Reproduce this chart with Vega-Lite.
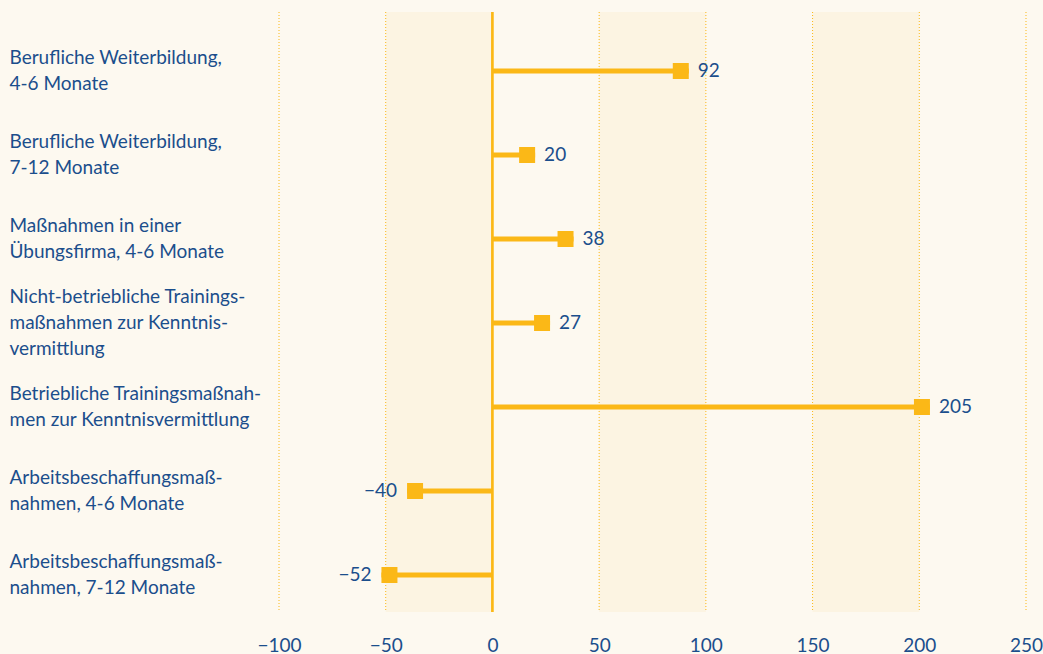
{
  "$schema": "https://vega.github.io/schema/vega-lite/v6.json",
  "autosize": {"type": "none"},
  "width": 747,
  "height": 600,
  "padding": {"left": 279, "top": 12, "right": 17, "bottom": 42},
  "background": "#fdf9f0",
  "config": {
    "view": {"stroke": null},
    "font": "Lato",
    "axis": {"labelFont": "Lato", "labelColor": "#1b4e8c", "labelFontSize": 19}
  },
  "datasets": {
    "rows": [
      {"category": "Berufliche Weiterbildung,|4-6 Monate", "value": 92},
      {"category": "Berufliche Weiterbildung,|7-12 Monate", "value": 20},
      {"category": "Maßnahmen in einer|Übungsfirma, 4-6 Monate", "value": 38},
      {"category": "Nicht-betriebliche Trainings-|maßnahmen zur Kenntnis-|vermittlung", "value": 27},
      {"category": "Betriebliche Trainingsmaßnah-|men zur Kenntnisvermittlung", "value": 205},
      {"category": "Arbeitsbeschaffungsmaß-|nahmen, 4-6 Monate", "value": -40},
      {"category": "Arbeitsbeschaffungsmaß-|nahmen, 7-12 Monate", "value": -52}
    ],
    "bands": [
      {"start": -50, "end": 0},
      {"start": 50, "end": 100},
      {"start": 150, "end": 200}
    ],
    "grid": [
      {"g": -100}, {"g": -50}, {"g": 50}, {"g": 100}, {"g": 150}, {"g": 200}, {"g": 250}
    ]
  },
  "data": {"name": "rows"},
  "resolve": {"scale": {"x": "shared"}},
  "layer": [
    {
      "data": {"name": "bands"},
      "mark": {"type": "rect", "color": "#fcf4e2"},
      "encoding": {
        "x": {"field": "start", "type": "quantitative", "scale": {"domain": [-100, 250], "nice": false, "zero": false},
          "axis": {"values": [-100, -50, 0, 50, 100, 150, 200, 250], "title": null, "domain": false, "ticks": false, "grid": false, "labelPadding": 24, "labelFlush": false}},
        "x2": {"field": "end"}
      }
    },
    {
      "data": {"name": "grid"},
      "mark": {"type": "rule", "color": "#fbb817", "strokeWidth": 1, "strokeDash": [1, 2]},
      "encoding": {
        "x": {"field": "g", "type": "quantitative"}
      }
    },
    {
      "mark": {"type": "rule", "color": "#fbb817", "strokeWidth": 1.5},
      "encoding": {"x": {"datum": 0, "type": "quantitative"}}
    },
    {
      "mark": {"type": "rule", "color": "#fbb817", "strokeWidth": 5, "strokeCap": "butt"},
      "encoding": {
        "y": {"field": "category", "type": "nominal", "sort": null,
          "scale": {"range": [17, 605], "paddingInner": 0, "paddingOuter": 0},
          "axis": {"title": null, "domain": false, "ticks": false, "labelAlign": "left", "labelPadding": 270, "labelLimit": 400, "labelLineHeight": 26, "labelBaseline": "middle",
            "labelOffset": {"condition": {"test": "length(split(datum.value, '|')) > 2", "value": -26}, "value": -13},
            "labelExpr": "split(datum.value, '|')"}},
        "x": {"field": "value", "type": "quantitative"},
        "x2": {"datum": 0}
      }
    },
    {
      "transform": [{"filter": "datum.value >= 0"}],
      "mark": {"type": "square", "color": "#fbb817", "opacity": 1, "size": 256, "xOffset": -8},
      "encoding": {
        "y": {"field": "category", "type": "nominal", "sort": null},
        "x": {"field": "value", "type": "quantitative"}
      }
    },
    {
      "transform": [{"filter": "datum.value < 0"}],
      "mark": {"type": "square", "color": "#fbb817", "opacity": 1, "size": 256, "xOffset": 8},
      "encoding": {
        "y": {"field": "category", "type": "nominal", "sort": null},
        "x": {"field": "value", "type": "quantitative"}
      }
    },
    {
      "transform": [{"filter": "datum.value >= 0"}],
      "mark": {"type": "text", "color": "#1b4e8c", "fontSize": 19, "align": "left", "baseline": "middle", "dx": 9},
      "encoding": {
        "y": {"field": "category", "type": "nominal", "sort": null},
        "x": {"field": "value", "type": "quantitative"},
        "text": {"field": "value", "type": "quantitative"}
      }
    },
    {
      "transform": [{"filter": "datum.value < 0"}],
      "mark": {"type": "text", "color": "#1b4e8c", "fontSize": 19, "align": "right", "baseline": "middle", "dx": -10},
      "encoding": {
        "y": {"field": "category", "type": "nominal", "sort": null},
        "x": {"field": "value", "type": "quantitative"},
        "text": {"field": "value", "type": "quantitative"}
      }
    }
  ]
}
